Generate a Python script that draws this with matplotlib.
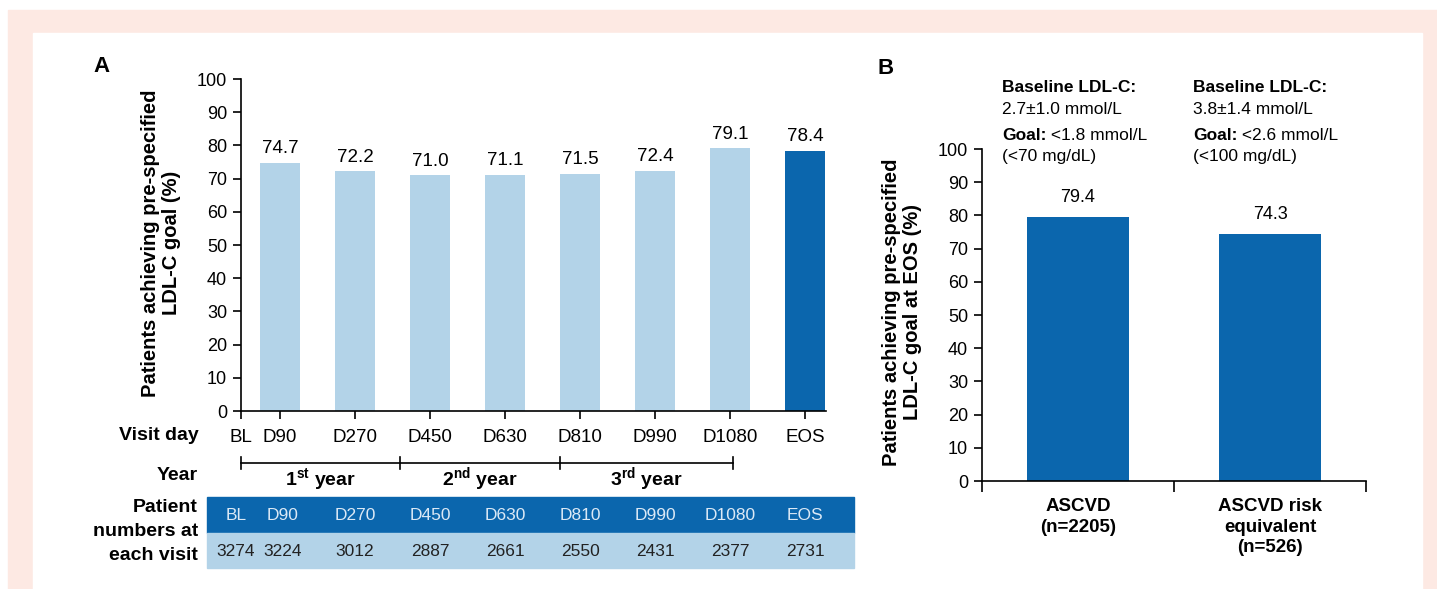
import matplotlib
matplotlib.use("Agg")
import matplotlib.pyplot as plt
import matplotlib.transforms as mtransforms
from matplotlib.patches import Rectangle
import numpy as np

plt.rcParams['font.family'] = ['Liberation Sans', 'DejaVu Sans']
plt.rcParams['mathtext.fontset'] = 'custom'
plt.rcParams['mathtext.rm'] = 'Liberation Sans'
plt.rcParams['mathtext.bf'] = 'Liberation Sans:bold'

# ---- data ----
visits = ['BL', 'D90', 'D270', 'D450', 'D630', 'D810', 'D990', 'D1080', 'EOS']
goal_pct = [74.7, 72.2, 71.0, 71.1, 71.5, 72.4, 79.1, 78.4]   # D90 .. EOS
patient_n = [3274, 3224, 3012, 2887, 2661, 2550, 2431, 2377, 2731]
year_labels = [r'$\mathbf{1^{st}}$ year', r'$\mathbf{2^{nd}}$ year', r'$\mathbf{3^{rd}}$ year']

groups = ['ASCVD\n(n=2205)', 'ASCVD risk\nequivalent\n(n=526)']
group_pct = [79.4, 74.3]
baseline = ['2.7\u00b11.0 mmol/L', '3.8\u00b11.4 mmol/L']
goals = ['<1.8 mmol/L', '<2.6 mmol/L']
goals_mg = ['(<70 mg/dL)', '(<100 mg/dL)']

LIGHT = '#b3d3e8'
DARK = '#0b66ad'
PINK = '#fde9e3'

W, H = 1437, 589


def fx(px):
    return px / W


def fy(py):
    return 1 - py / H


fig = plt.figure(figsize=(14.37, 5.89), dpi=100)
fig.patch.set_facecolor('white')
fig.add_artist(Rectangle((fx(8), 0), fx(W - 8), 1 - 10 / H, transform=fig.transFigure,
                         color=PINK, zorder=-3))
fig.add_artist(Rectangle((fx(33), 0), fx(1422 - 33), 1 - 33 / H, transform=fig.transFigure,
                         color='white', zorder=-2))

# ---------------- panel A ----------------
ax = fig.add_axes([fx(241), fy(411), fx(826 - 241), (411 - 79) / H])
xpos = np.concatenate([[0.48], np.arange(1, len(visits))])
bar_x = xpos[1:]
colors = [LIGHT] * (len(goal_pct) - 1) + [DARK]
ax.bar(bar_x, goal_pct, width=0.53, color=colors)
for x, v in zip(bar_x, goal_pct):
    ax.annotate(f'{v:.1f}', (x, v), xytext=(0, 4), textcoords='offset points',
                ha='center', va='bottom', fontsize=13.5)
ax.set_xlim(0.48, 8.28)
ax.set_ylim(0, 100)
ax.set_yticks(range(0, 101, 10))
ax.set_xticks(xpos, visits)
ax.tick_params(axis='y', labelsize=13, length=6, width=1.2, pad=4)
ax.tick_params(axis='x', labelsize=13.5, length=6, width=1.2, pad=7)
for s in ['top', 'right']:
    ax.spines[s].set_visible(False)
for s in ['left', 'bottom']:
    ax.spines[s].set_linewidth(1.2)

fig.text(fx(161), fy(243), 'Patients achieving pre-specified\nLDL-C goal (%)', rotation=90,
         ha='center', va='center', fontsize=14.5, fontweight='bold', linespacing=1.1)
fig.text(fx(102), fy(67), 'A', ha='center', va='center', fontsize=16, fontweight='bold')
fig.text(fx(199), fy(435), 'Visit day', ha='right', va='center', fontsize=14, fontweight='bold')
fig.text(fx(198), fy(476), 'Year', ha='right', va='center', fontsize=14, fontweight='bold')

blend = mtransforms.blended_transform_factory(ax.transData, fig.transFigure)

# year brackets
year_edges = [0.48, 2.6, 4.73, 7.04]
ax.plot([year_edges[0], year_edges[-1]], [fy(463)] * 2, color='black', lw=1.2,
        transform=blend, clip_on=False)
for e in year_edges:
    ax.plot([e, e], [fy(457), fy(469)], color='black', lw=1.2, transform=blend, clip_on=False)
for i, lab in enumerate(year_labels):
    mid = (year_edges[i] + year_edges[i + 1]) / 2
    ax.text(mid, fy(479), lab, transform=blend, ha='center', va='center',
            fontsize=14, fontweight='bold')

# patient number table
fig.add_artist(Rectangle((fx(207), fy(533)), fx(854 - 207), 36 / H, transform=fig.transFigure,
                         color=DARK, zorder=-1))
fig.add_artist(Rectangle((fx(207), fy(568)), fx(854 - 207), 35 / H, transform=fig.transFigure,
                         color=LIGHT, zorder=-1))
table_x = xpos.copy()
table_x[0] -= 0.07   # first two columns are squeezed apart in the table
table_x[1] += 0.04
for x, lab, n in zip(table_x, visits, patient_n):
    ax.text(x, fy(516), lab, transform=blend, ha='center', va='center', fontsize=12.5,
            color='#dbe9f6', zorder=3)
    ax.text(x, fy(551), str(n), transform=blend, ha='center', va='center', fontsize=12.5,
            color='#222222', zorder=3)
for txt, yy in zip(['Patient', 'numbers at', 'each visit'], [507, 531, 555]):
    fig.text(fx(198), fy(yy), txt, ha='right', va='center', fontsize=14, fontweight='bold')

# ---------------- panel B ----------------
bx = fig.add_axes([fx(982), fy(481), fx(1366 - 982), (481 - 149) / H])
gx = np.arange(len(groups))
bx.bar(gx, group_pct, width=0.53, color=DARK)
for x, v in zip(gx, group_pct):
    bx.annotate(f'{v:.1f}', (x, v), xytext=(0, 8), textcoords='offset points',
                ha='center', va='bottom', fontsize=13)
bx.set_xlim(-0.5, 1.5)
bx.set_ylim(0, 100)
bx.set_yticks(range(0, 101, 10))
bx.set_xticks([-0.5, 0.5, 1.5], ['', '', ''])
bx.tick_params(axis='y', labelsize=13, length=6, width=1.2, pad=4)
bx.tick_params(axis='x', length=8, width=1.2)
for s in ['top', 'right']:
    bx.spines[s].set_visible(False)
for s in ['left', 'bottom']:
    bx.spines[s].set_linewidth(1.2)
for x, g in zip(gx, groups):
    bx.annotate(g, (x, 0), xycoords=('data', 'axes fraction'), xytext=(0, -12),
                textcoords='offset points', ha='center', va='top', fontsize=13.5,
                fontweight='bold', linespacing=1.3)

fig.text(fx(902), fy(312), 'Patients achieving pre-specified\nLDL-C goal at EOS (%)', rotation=90,
         ha='center', va='center', fontsize=14.5, fontweight='bold', linespacing=1.15)
fig.text(fx(886), fy(68), 'B', ha='center', va='center', fontsize=16, fontweight='bold')

for xl, bl, gl, mg in zip([1002, 1193], baseline, goals, goals_mg):
    fig.text(fx(xl), fy(88), 'Baseline LDL-C:', ha='left', va='center', fontsize=12.5,
             fontweight='bold')
    fig.text(fx(xl), fy(110), bl, ha='left', va='center', fontsize=12.5)
    gt = fig.text(fx(xl), fy(135), 'Goal:', ha='left', va='center', fontsize=12.5,
                  fontweight='bold')
    bx.annotate(' ' + gl, xy=(1, 0), xycoords=gt, ha='left', va='bottom', fontsize=12.5,
                annotation_clip=False)
    fig.text(fx(xl), fy(157), mg, ha='left', va='center', fontsize=12.5)

fig.savefig('out.png', dpi=100)
